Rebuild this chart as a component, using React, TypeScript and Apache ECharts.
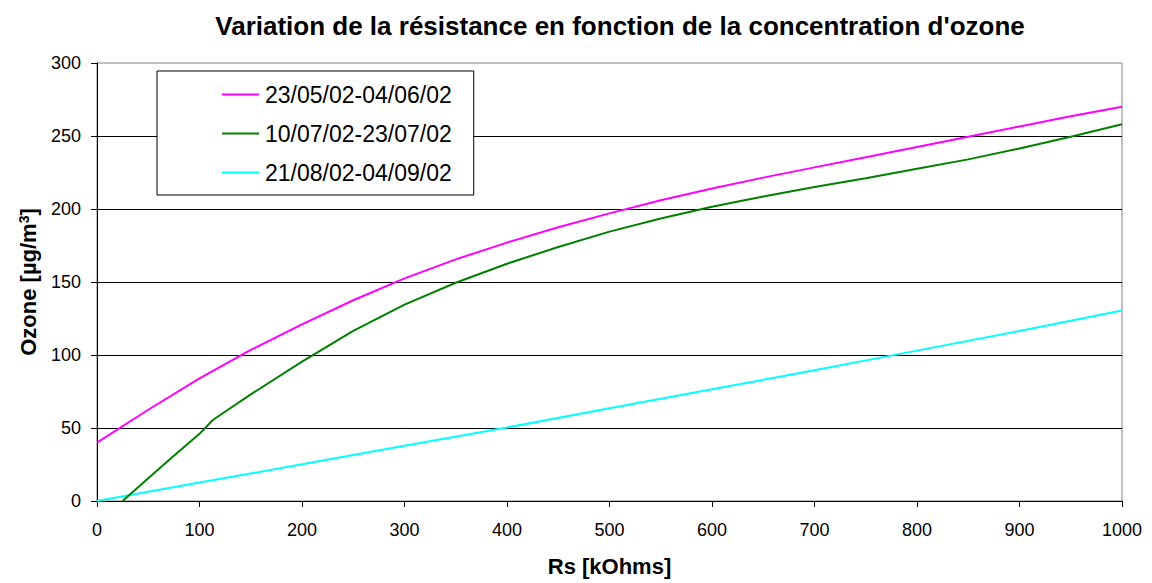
import React, { useEffect, useRef } from "react";
import * as echarts from "echarts";

const titleText = "Variation de la résistance en fonction de la concentration d'ozone";
const xAxisName = "Rs [kOhms]";
const seriesNames = ["23/05/02-04/06/02", "10/07/02-23/07/02", "21/08/02-04/09/02"];

const magentaX = [0, 50, 100, 150, 200, 250, 300, 350, 400, 450, 500, 550, 600, 650, 700, 750, 800, 850, 900, 950, 1000];
const magentaY = [40, 62.5, 84, 103.5, 121, 137.5, 152.5, 165.5, 177, 187.5, 197, 206, 214, 221.5, 228.5, 235.5, 242.5, 249.5, 256.5, 263.5, 270];

const greenX = [25, 50, 75, 100, 113, 150, 200, 250, 300, 350, 400, 450, 500, 550, 600, 650, 700, 750, 800, 850, 900, 950, 1000];
const greenY = [0, 15.5, 31, 46, 55.5, 73, 95.5, 116.5, 134.5, 149.5, 162.5, 174, 184.5, 193.5, 201.5, 208.5, 215, 221, 227.5, 234, 241.5, 249.5, 258];

const cyanX = [0, 100, 200, 300, 400, 500, 600, 700, 800, 900, 1000];
const cyanY = [0, 12.6, 25.1, 37.8, 50.3, 63.5, 76.5, 89.5, 103, 116.5, 130.5];

const colors = ["#FF00FF", "#008000", "#00FFFF"];

const FONT = "'Liberation Sans', Arial, sans-serif";

function zip(xs: number[], ys: number[]) {
  return xs.map((x, i) => [x, ys[i]]);
}

export default function App() {
  const ref = useRef<HTMLDivElement>(null);
  useEffect(() => {
    if (!ref.current) return;
    const chart = echarts.init(ref.current, undefined, { renderer: "svg" });
    const seriesData = [zip(magentaX, magentaY), zip(greenX, greenY), zip(cyanX, cyanY)];
    chart.setOption({
      animation: false,
      backgroundColor: "#fff",
      textStyle: { fontFamily: FONT },
      title: {
        text: titleText,
        left: 615,
        textAlign: "center",
        top: 8,
        textStyle: { fontSize: 26, fontWeight: "bold", color: "#000", fontFamily: FONT },
      },
      legend: {
        orient: "vertical",
        left: 157,
        top: 71,
        padding: [12, 22, 11, 65],
        itemGap: 16,
        itemWidth: 37,
        itemHeight: 2,
        icon: "rect",
        borderColor: "#000",
        borderWidth: 1,
        backgroundColor: "#fff",
        textStyle: { fontSize: 23, color: "#000", fontFamily: FONT, padding: [0, 0, 0, 1] },
        data: seriesNames,
      },
      grid: {
        left: 97,
        right: 30,
        top: 63,
        bottom: 82,
        show: true,
        borderColor: "#808080",
        borderWidth: 1,
        containLabel: false,
      },
      xAxis: {
        type: "value",
        min: 0,
        max: 1000,
        interval: 100,
        name: xAxisName,
        nameLocation: "middle",
        nameGap: 54,
        nameTextStyle: { fontSize: 22, fontWeight: "bold", color: "#000", fontFamily: FONT },
        axisLine: { show: true, lineStyle: { color: "#000", width: 1 } },
        axisTick: { show: true, inside: false, length: 6, lineStyle: { color: "#000" } },
        axisLabel: { fontSize: 18, color: "#000", margin: 20, fontFamily: FONT, formatter: (v: number) => String(v) },
        splitLine: { show: false },
      },
      yAxis: {
        type: "value",
        min: 0,
        max: 300,
        interval: 50,
        name: "Ozone [µg/m{s|3}]",
        nameLocation: "middle",
        nameGap: 58,
        nameRotate: 90,
        nameTextStyle: {
          fontSize: 22,
          fontWeight: "bold",
          color: "#000",
          fontFamily: FONT,
          rich: {
            s: { fontSize: 14, fontWeight: "bold", color: "#000", verticalAlign: "top", lineHeight: 14, fontFamily: FONT },
          },
        },
        axisLine: { show: true, lineStyle: { color: "#000", width: 1 } },
        axisTick: { show: true, inside: false, length: 6, lineStyle: { color: "#000" } },
        axisLabel: { fontSize: 18, color: "#000", margin: 16, fontFamily: FONT, formatter: (v: number) => String(v) },
        splitLine: { show: true, showMaxLine: false, showMinLine: false, lineStyle: { color: "#000", width: 1 } },
      },
      series: seriesNames.map((name, i) => ({
        name,
        type: "line",
        data: seriesData[i],
        symbol: "none",
        showSymbol: false,
        lineStyle: { color: colors[i], width: 2 },
        itemStyle: { color: colors[i] },
        smooth: false,
        z: 3 - i,
      })),
    });
    return () => chart.dispose();
  }, []);
  return (
    <div
      ref={ref}
      style={{ position: "absolute", left: 0, top: 0, width: 1152, height: 583 }}
    />
  );
}
